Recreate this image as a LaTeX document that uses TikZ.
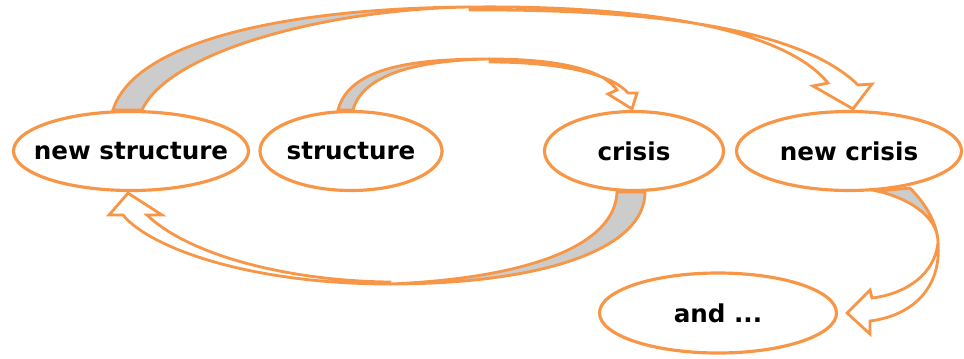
\documentclass[tikz,border=0pt]{standalone}
\usepackage{fontspec}
\setmainfont{DejaVu Sans}
\usetikzlibrary{calc,shapes.geometric}
\definecolor{ribbon}{RGB}{247,150,70}
\definecolor{underside}{RGB}{204,204,204}
\tikzset{
	stage/.style={ellipse, draw=ribbon, line width=1.8pt, fill=white, inner sep=0pt, minimum height=15.8mm, font=\fontsize{14}{16}\selectfont\bfseries},
	back/.style={draw=ribbon, line width=1.6pt, fill=underside},
	front/.style={draw=ribbon, line width=1.6pt, fill=white}
}

\begin{document}
\begin{tikzpicture}[x=0.2mm, y=-0.2mm]
			%%%%% START %%%%%
			\useasboundingbox (0,0) rectangle (964,358);
			
			\node[stage, minimum width=47mm] (ns) at (131,151) {\makebox[30mm]{new structure}};
			\node[stage, minimum width=36.2mm] (st) at (351,151) {structure};
			\node[stage, minimum width=35.8mm] (cr) at (634,151) {crisis};
			\node[stage, minimum width=45mm] (nc) at (849,151) {\makebox[28mm]{new crisis}};
			\node[stage, minimum width=47.4mm, minimum height=16mm] (an) at (718,313) {and ...};
			
			% new structure -> new crisis
			\coordinate (a1) at ($(ns.north)+(-18,0)$);
			\coordinate (b1) at ($(ns.north)+(11,0)$);
			\coordinate (h1) at ($(nc.north)+(4,-1)$);
			\draw[back] (a1) .. controls (135,40) and (290,8) .. (470,7) .. controls (330,9) and (170,50) .. (b1) -- cycle;
			\draw[front] (470,7) .. controls (650,5) and (785,30) .. (828,83) -- (813,86) -- (h1) -- (872,84) -- (858,85) .. controls (800,28) and (650,9) .. (470,10) -- cycle;
			
			% structure -> crisis
			\coordinate (a2) at ($(st.north)+(-13,0)$);
			\coordinate (b2) at ($(st.north)+(2,0)$);
			\coordinate (h2) at ($(cr.north)+(-2,-1)$);
			\draw[back] (a2) .. controls (350,65) and (420,59) .. (490,59) .. controls (430,60) and (364,70) .. (b2) -- cycle;
			\draw[front] (490,59) .. controls (560,59) and (603,70) .. (617,90) -- (608,94) -- (h2) -- (637,93) -- (628,93) .. controls (612,74) and (560,62) .. (490,62) -- cycle;
			
			% crisis -> new structure
			\coordinate (a3) at ($(cr.south)+(-17,0)$);
			\coordinate (b3) at ($(cr.south)+(11,0)$);
			\coordinate (h3) at ($(ns.south)+(-3,1)$);
			\draw[back] (b3) .. controls (645,250) and (540,284) .. (390,284) .. controls (530,278) and (615,245) .. (a3) -- cycle;
			\draw[front] (390,284) .. controls (250,284) and (150,248) .. (123,215) -- (109,215) -- (h3) -- (162,215) -- (147,215) .. controls (190,256) and (290,281) .. (390,282) -- cycle;
			
			% new crisis -> and ...
			\coordinate (a4) at ($(nc.south)+(28,-1)$);
			\coordinate (b4) at ($(nc.south)+(61,-4)$);
			\coordinate (h4) at ($(an.east)+(9,0)$);
			\draw[back] (a4) .. controls (905,197) and (938,215) .. (938,242) .. controls (937,220) and (922,200) .. (b4) -- cycle;
			\draw[front] (938,242) .. controls (942,290) and (910,316) .. (870,321) -- (870,334) -- (h4) -- (870,290) -- (872,298) .. controls (905,294) and (935,275) .. (938,242) -- cycle;
			
			%%%%% END %%%%%
\end{tikzpicture}
\end{document}
